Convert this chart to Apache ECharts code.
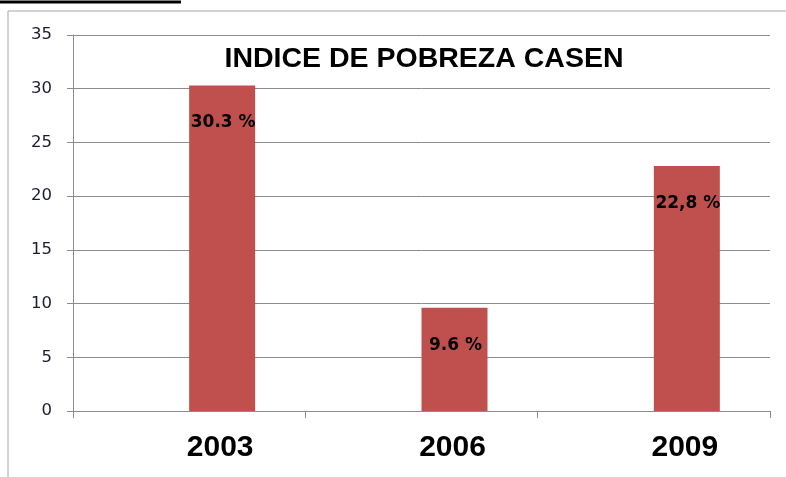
<!DOCTYPE html>
<html>
<head>
<meta charset="utf-8">
<script src="https://cdn.jsdelivr.net/npm/echarts@6/dist/echarts.min.js"></script>
<style>
  html, body { margin: 0; padding: 0; background: #fff; }
  #chart { width: 786px; height: 477px; }
</style>
</head>
<body>
<div id="chart"></div>
<script>
const years = ['2003', '2006', '2009']
const pobreza = [30.3, 9.6, 22.8]
const etiquetas = ['30.3 %', '9.6 %', '22,8 %']
// the original sheet has an empty series next to the bars
const vacia = [null, null, null]
const yTicks = [0, 5, 10, 15, 20, 25, 30, 35]

const chart = echarts.init(document.getElementById('chart'))

const option = {
  animation: false,
  title: {
    text: 'INDICE DE POBREZA CASEN',
    left: 419,
    textAlign: 'center',
    top: 40,
    textStyle: {
      fontFamily: 'Liberation Sans',
      fontWeight: 'bold',
      fontSize: 28.5,
      color: '#000'
    }
  },
  graphic: [
    { type: 'line', shape: { x1: 0, y1: 2, x2: 181, y2: 2 }, style: { stroke: '#000', lineWidth: 3 } },
    { type: 'line', shape: { x1: 8, y1: 11, x2: 786, y2: 11 }, style: { stroke: '#a0a6b4', lineWidth: 1 } },
    { type: 'line', shape: { x1: 8, y1: 11, x2: 8, y2: 477 }, style: { stroke: '#a0a6b4', lineWidth: 1 } }
  ],
  grid: { left: 73, right: 16, top: 35, bottom: 66 },
  xAxis: {
    type: 'category',
    data: years,
    axisLine: { lineStyle: { color: '#8c8c8c' } },
    axisTick: { show: true, length: 7, lineStyle: { color: '#8c8c8c' } },
    axisLabel: {
      margin: 22,
      padding: [0, 0, 0, 62],
      fontFamily: 'Liberation Sans',
      fontWeight: 'bold',
      fontSize: 30,
      color: '#000'
    }
  },
  yAxis: {
    type: 'value',
    min: 0,
    max: 35,
    interval: 5,
    axisLine: { show: true, lineStyle: { color: '#8c8c8c' } },
    axisTick: { show: true, length: 6, lineStyle: { color: '#8c8c8c' } },
    splitLine: { lineStyle: { color: '#8c8c8c' } },
    axisLabel: {
      margin: 21,
      fontFamily: 'DejaVu Sans',
      fontSize: 16.5,
      color: '#1c1c30',
      formatter: v => (yTicks.includes(v) ? String(v) : '')
    }
  },
  series: [
    {
      type: 'bar',
      data: vacia,
      barWidth: 66,
      barGap: '0%'
    },
    {
      type: 'bar',
      data: pobreza,
      barWidth: 66,
      barGap: '0%',
      itemStyle: { color: '#c0504d' },
      label: {
        show: true,
        position: 'insideTop',
        offset: [1, 24],
        fontFamily: 'DejaVu Sans',
        fontWeight: 'bold',
        fontSize: 17,
        color: '#000',
        formatter: p => etiquetas[p.dataIndex]
      }
    }
  ]
}

chart.setOption(option)
</script>
</body>
</html>
